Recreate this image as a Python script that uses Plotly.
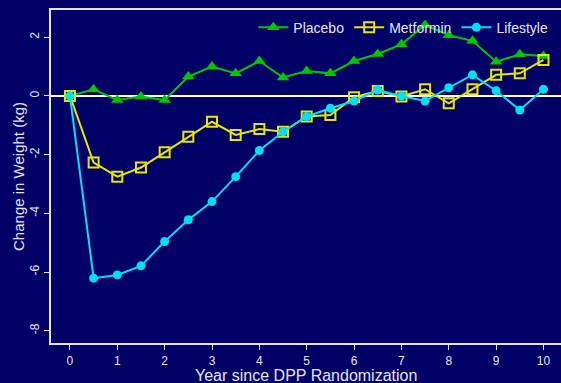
import plotly.graph_objects as go

# Years since randomization (semi-annual visits)
years = [0, 0.5, 1, 1.5, 2, 2.5, 3, 3.5, 4, 4.5, 5, 5.5, 6, 6.5, 7, 7.5, 8, 8.5, 9, 9.5, 10]

# Mean change in weight (kg) by treatment group
placebo = [0, 0.23, -0.14, -0.02, -0.14, 0.66, 1.0, 0.77, 1.19, 0.63, 0.85, 0.77,
           1.19, 1.43, 1.76, 2.42, 2.07, 1.88, 1.17, 1.42, 1.36]
metformin = [0, -2.27, -2.75, -2.44, -1.92, -1.39, -0.88, -1.33, -1.13, -1.22, -0.70, -0.65,
             -0.04, 0.17, -0.02, 0.23, -0.25, 0.23, 0.72, 0.77, 1.23]
lifestyle = [0, -6.21, -6.10, -5.79, -4.96, -4.22, -3.60, -2.75, -1.86, -1.22, -0.70, -0.42,
             -0.17, 0.20, 0.0, -0.17, 0.28, 0.72, 0.18, -0.48, 0.23]

x_ticks = list(range(0, 11))
y_ticks = [2, 0, -2, -4, -6, -8]

BG = "#000066"
FG = "#E4E4F0"
FONT = "Liberation Sans, Arial, sans-serif"

fig = go.Figure()
fig.add_trace(go.Scatter(
    x=years, y=placebo, name="Placebo", mode="lines+markers",
    line=dict(color="#00C800", width=2),
    marker=dict(symbol="triangle-up", size=11, color="#00C800"),
))
fig.add_trace(go.Scatter(
    x=years, y=metformin, name="Metformin", mode="lines+markers",
    line=dict(color="#E6E600", width=2),
    marker=dict(symbol="square-open", size=10, color="#E6E600", line=dict(width=2)),
))
fig.add_trace(go.Scatter(
    x=years, y=lifestyle, name="Lifestyle", mode="lines+markers",
    line=dict(color="#00E0F0", width=2),
    marker=dict(symbol="circle", size=9, color="#00E0F0"),
))

fig.update_layout(
    width=561, height=383,
    paper_bgcolor=BG, plot_bgcolor=BG,
    margin=dict(l=51, r=0, t=10, b=40),
    font=dict(family=FONT, color=FG, size=12),
    showlegend=True,
    legend=dict(
        orientation="h", x=0.985, xanchor="right", y=0.995, yanchor="top",
        bgcolor="rgba(0,0,0,0)", font=dict(size=14, color=FG),
        itemwidth=30, tracegroupgap=0,
    ),
)

# x-axis title drawn as an annotation just under the tick labels
fig.add_annotation(
    text="Year since DPP Randomization", xref="paper", yref="paper",
    x=0.5, y=-0.068, xanchor="center", yanchor="top", showarrow=False,
    font=dict(size=16, color=FG), borderpad=0,
)

fig.update_xaxes(
    range=[-0.4, 10.37], tickvals=x_ticks, ticktext=[str(v) for v in x_ticks],
    automargin=False,
    showgrid=False, zeroline=False,
    showline=True, linecolor=FG, linewidth=2, mirror=True,
    ticks="outside", ticklen=5, tickcolor=FG, tickwidth=1,
    ticklabelstandoff=1,
    tickfont=dict(size=12, color=FG),
)
fig.update_yaxes(
    range=[-8.42, 2.93], tickvals=y_ticks, ticktext=[str(v) for v in y_ticks],
    automargin=False,
    tickangle=-90,
    showgrid=False, zeroline=True, zerolinecolor="#FFFFFF", zerolinewidth=2,
    showline=True, linecolor=FG, linewidth=2, mirror=False,
    ticks="outside", ticklen=5, tickcolor=FG, tickwidth=1,
    tickfont=dict(size=12, color=FG),
    title=dict(text="Change in Weight (kg)", font=dict(size=15, color=FG), standoff=0),
)

fig.write_html("out.html")
